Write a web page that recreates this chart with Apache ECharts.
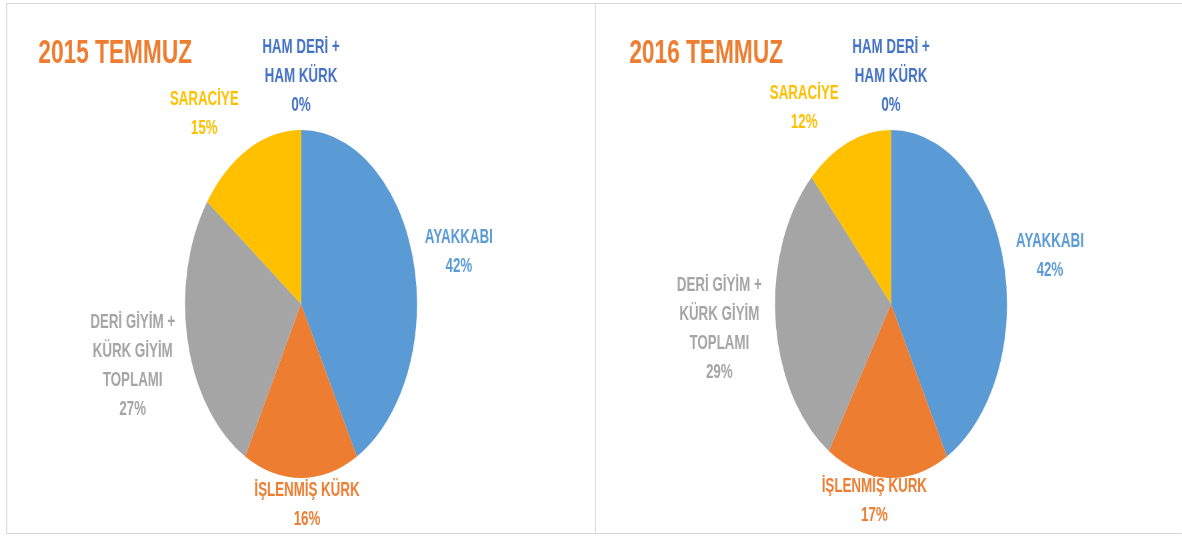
<!DOCTYPE html>
<html>
<head>
<meta charset="utf-8">
<script src="https://cdn.jsdelivr.net/npm/echarts@6/dist/echarts.min.js"></script>
<style>
  html, body { margin: 0; padding: 0; background: #fff; overflow: hidden; }
  /* the source picture is squeezed sideways: draw wide, then compress */
  #chart { width: 1773px; height: 536px; transform: scaleX(0.6667); transform-origin: 0 0; }
</style>
</head>
<body>
<div id="chart"></div>
<script>
// data
const categories = ['AYAKKABI', 'İŞLENMİŞ KÜRK', 'DERİ GİYİM +\nKÜRK GİYİM\nTOPLAMI', 'SARACİYE', 'HAM DERİ +\nHAM KÜRK'];
const values2015 = [42, 16, 27, 15, 0];
const values2016 = [42, 17, 29, 12, 0];
const titles = ['2015 TEMMUZ', '2016 TEMMUZ'];

const colors = ['#5B9BD5', '#ED7D31', '#A5A5A5', '#FFC000', '#4472C4'];
const S = 0.6667;          // horizontal squeeze
const R = 174;             // pie radius (unscaled)
const CY = 304;
const font = 'Liberation Sans';

// small label nudges, in picture pixels [dx, dy]
const nudge2015 = [[1, 0], [6, -10], [-2, 10], [-23, -2], [0, -2]];
const nudge2016 = [[2, 4], [-11, -14], [-2, 2], [-27, 0], [0, -2]];

function buildData(values) {
  return categories.map((name, i) => ({
    name: name,
    value: values[i],
    itemStyle: { color: colors[i] },
    label: { color: colors[i] }
  }));
}

// place each label just outside the (squeezed) pie, Excel style
function placeLabels(values, cx, nudge) {
  const total = values.reduce((a, b) => a + b, 0);
  return function (p) {
    let before = 0;
    for (let i = 0; i < p.dataIndex; i++) before += values[i];
    const mid = (before + values[p.dataIndex] / 2) / total * Math.PI * 2;
    const sx = Math.sin(mid), cy = Math.cos(mid);
    const ax = cx + R * sx, ay = CY - R * cy;
    const w = p.labelRect.width, h = p.labelRect.height;
    const n = nudge[p.dataIndex];
    return {
      x: ax + sx * (w / 2 + 12 / S) + n[0] / S,
      y: ay - cy * (h / 2 + 8) + n[1],
      align: 'center',
      verticalAlign: 'middle'
    };
  };
}

function pieSeries(values, cx, nudge) {
  return {
    type: 'pie',
    center: [cx, CY],
    radius: R,
    startAngle: 90,
    clockwise: true,
    avoidLabelOverlap: false,
    animation: false,
    data: buildData(values),
    label: {
      show: true,
      position: 'outside',
      formatter: '{b}\n{d}%',
      fontFamily: font,
      fontWeight: 'bold',
      fontSize: 20,
      lineHeight: 29
    },
    labelLine: { show: false },
    labelLayout: placeLabels(values, cx, nudge),
    itemStyle: { borderWidth: 0 },
    emphasis: { disabled: true }
  };
}

const mychart = echarts.init(document.getElementById('chart'));
const cx1 = 301 / S, cx2 = 891 / S;
const lineStyle = { stroke: '#d9d9d9', lineWidth: 1 };
const vLine = { stroke: '#d9d9d9', lineWidth: 1.5 };
mychart.setOption({
  backgroundColor: '#fff',
  title: [
    {
      text: titles[0], left: 35 / S, top: 31,
      textStyle: { color: '#ED7D31', fontFamily: font, fontWeight: 'bold', fontSize: 34, lineHeight: 36 }
    },
    {
      text: titles[1], left: 626 / S, top: 31,
      textStyle: { color: '#ED7D31', fontFamily: font, fontWeight: 'bold', fontSize: 34, lineHeight: 36 }
    }
  ],
  graphic: [
    { type: 'line', shape: { x1: 6 / S, y1: 3.5, x2: 1182 / S, y2: 3.5 }, style: lineStyle, silent: true },
    { type: 'line', shape: { x1: 6 / S, y1: 533.5, x2: 1182 / S, y2: 533.5 }, style: lineStyle, silent: true },
    { type: 'line', shape: { x1: 6.5 / S, y1: 3.5, x2: 6.5 / S, y2: 533.5 }, style: vLine, silent: true },
    { type: 'line', shape: { x1: 595.5 / S, y1: 3.5, x2: 595.5 / S, y2: 533.5 }, style: vLine, silent: true }
  ],
  series: [
    pieSeries(values2015, cx1, nudge2015),
    pieSeries(values2016, cx2, nudge2016)
  ]
});
window.onresize = function () {
  mychart.resize();
};
</script>
</body>
</html>
